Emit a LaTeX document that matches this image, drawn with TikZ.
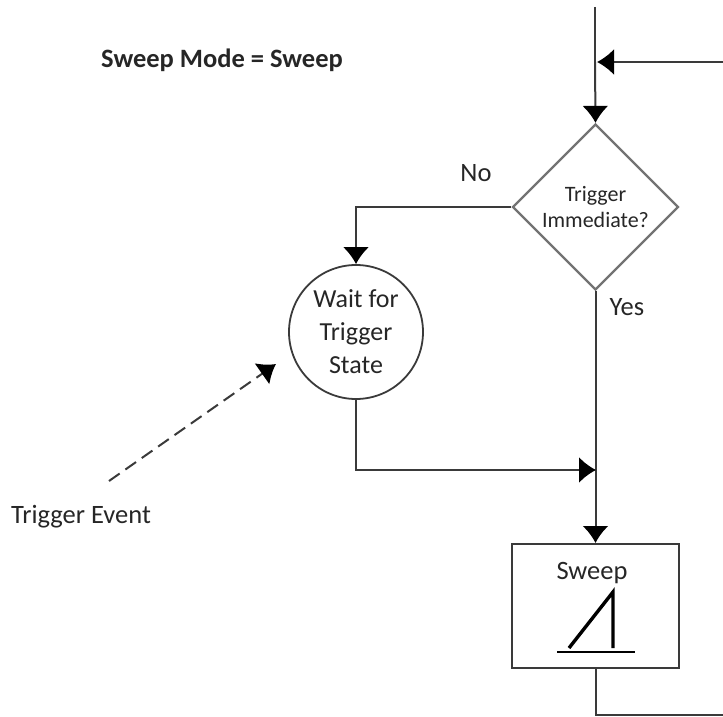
\documentclass[tikz,border=0pt]{standalone}
\usepackage{fontspec}
\setmainfont{Carlito}
\usetikzlibrary{arrows.meta,shapes.geometric}
\definecolor{linegray}{HTML}{3A3A3A}
\tikzset{
  flow/.style={draw=linegray,line width=2pt},
  lbl/.style={inner sep=0pt,font=\fontsize{26.5}{30}\selectfont,text=black!85},
}
\begin{document}
\begin{tikzpicture}[>={Latex[length=17pt,width=26pt,black]}, x=1pt, y=-1pt]
    \useasboundingbox (0,0) rectangle (723,717);
    \node[lbl,font=\fontsize{26.5}{30}\selectfont\bfseries] (title) at (222,60) {Sweep Mode = Sweep};
    \node[diamond,draw=black!55,line width=2.2pt,minimum width=166pt,minimum height=166pt,inner sep=0pt,align=center,font=\fontsize{22}{26}\selectfont,text=black!85] (trig) at (595.5,207) {Trigger\\Immediate?};
    \node[circle,draw=linegray,line width=1.8pt,minimum size=134pt,inner sep=0pt,align=center,font=\fontsize{26}{33}\selectfont,text=black!85] (wait) at (356,332) {Wait for\\Trigger\\State};
    \node[rectangle,draw=linegray,line width=2pt,minimum width=167pt,minimum height=124pt] (sweep) at (595.5,606) {};
    \node[lbl] (sweeplbl) at (592,573) {Sweep};
    \node[lbl] (no) at (476,173) {No};
    \node[lbl] (yes) at (627,307) {Yes};
    \node[lbl] (event) at (81,517) {Trigger Event};
    % free ends
    \coordinate (top) at (595,7);
    \coordinate (mid) at (595,62);
    \coordinate (back) at (723,62);
    \coordinate (join) at (597,62);
    \coordinate (merge) at (596,470);
    \coordinate (out) at (723,715);
    \coordinate (evstart) at (109,481);
    \coordinate (evend) at (276,364);
    \draw[flow](top)--(mid);
    \draw[flow,->](mid)--(trig.north);
    \draw[flow,->](back)--(join);
    \draw[flow,->](trig.west)-|(wait.north);
    \draw[flow,->](trig.south)--(sweep.north);
    \draw[flow,->](wait.south)|-(merge);
    \draw[flow](sweep.south)|-(out);
    \draw[line width=2pt,dash pattern=on 13pt off 7pt,draw=linegray,->](evstart)--(evend);
    % ramp symbol
    \coordinate (rampa) at (569,648);
    \coordinate (rampb) at (613,592);
    \coordinate (rampc) at (613,648);
    \coordinate (basea) at (557,652);
    \coordinate (baseb) at (635,652);
    \draw[line width=3.4pt](rampa)--(rampb)--(rampc);
    \draw[line width=2pt](basea)--(baseb);
\end{tikzpicture}
\end{document}
